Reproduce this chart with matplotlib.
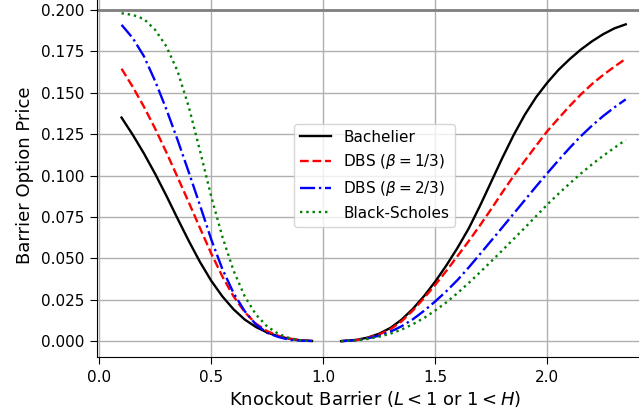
import matplotlib
matplotlib.use("Agg")
import matplotlib.pyplot as plt

# Left branch (L < 1)
x_left = [0.10, 0.15, 0.20, 0.25, 0.30, 0.35, 0.40, 0.45, 0.50, 0.55,
          0.60, 0.65, 0.70, 0.75, 0.80, 0.85, 0.90, 0.95]
bach_left = [0.135, 0.1246, 0.1133, 0.1010, 0.0878, 0.0740, 0.0605, 0.0478, 0.0365, 0.0270,
             0.0192, 0.0130, 0.0085, 0.0052, 0.0029, 0.0014, 0.0005, 0.0001]
dbs13_left = [0.1645, 0.1535, 0.1415, 0.1283, 0.1140, 0.0990, 0.0838, 0.0683, 0.0530, 0.0390,
              0.0270, 0.0175, 0.0105, 0.0060, 0.0032, 0.0015, 0.0006, 0.0001]
dbs23_left = [0.191, 0.183, 0.172, 0.157, 0.140, 0.1215, 0.102, 0.082, 0.0615, 0.0435,
              0.029, 0.018, 0.010, 0.005, 0.0025, 0.0008, 0.0003, 0.0001]
bs_left = [0.198, 0.197, 0.1945, 0.188, 0.178, 0.163, 0.1415, 0.1150, 0.0875, 0.0630,
           0.0425, 0.0270, 0.0160, 0.0088, 0.0044, 0.0018, 0.0005, 0.0001]

# Right branch (H > 1)
x_right = [1.08, 1.15, 1.20, 1.25, 1.30, 1.35, 1.40, 1.45, 1.50, 1.55,
           1.60, 1.65, 1.70, 1.75, 1.80, 1.85, 1.90, 1.95, 2.00, 2.05,
           2.10, 2.15, 2.20, 2.25, 2.30, 2.35]
bach_right = [0.0, 0.0008, 0.0022, 0.0045, 0.0080, 0.0130, 0.0195, 0.0272, 0.0360, 0.0458,
              0.0565, 0.0682, 0.0818, 0.0963, 0.1108, 0.1245, 0.1368, 0.1473, 0.1561, 0.1638,
              0.1703, 0.1761, 0.1811, 0.1854, 0.1889, 0.1913]
dbs13_right = [0.0, 0.0007, 0.0020, 0.0040, 0.0072, 0.0120, 0.0185, 0.0260, 0.0340, 0.0425,
               0.0515, 0.0605, 0.0700, 0.0798, 0.0900, 0.0998, 0.1090, 0.1180, 0.1268, 0.1345,
               0.1420, 0.1490, 0.1553, 0.1608, 0.1658, 0.1705]
dbs23_right = [0.0, 0.0006, 0.0017, 0.0033, 0.0057, 0.0090, 0.0132, 0.0183, 0.0240, 0.0302,
               0.0370, 0.0446, 0.0526, 0.0607, 0.0688, 0.0770, 0.0852, 0.0934, 0.1014, 0.1092,
               0.1167, 0.1238, 0.1302, 0.1360, 0.1412, 0.1460]
bs_right = [0.0, 0.0005, 0.0014, 0.0027, 0.0045, 0.0070, 0.0102, 0.0140, 0.0185, 0.0235,
            0.0291, 0.0352, 0.0416, 0.0482, 0.0549, 0.0617, 0.0685, 0.0755, 0.0825, 0.0890,
            0.0952, 0.1012, 0.1068, 0.1120, 0.1168, 0.1215]

labels = ["Bachelier", r"DBS ($\beta=1/3$)", r"DBS ($\beta=2/3$)", "Black-Scholes"]
upper_bound = 0.2

fig = plt.figure(figsize=(6.39, 4.17), dpi=100)
ax = fig.add_axes([0.1513, 0.1434, 0.870, 0.8725])

styles = [("k", "-"), ("r", "--"), ("b", "-."), ("green", ":")]
lefts = [bach_left, dbs13_left, dbs23_left, bs_left]
rights = [bach_right, dbs13_right, dbs23_right, bs_right]
for (c, ls), yl, yr, lab in zip(styles, lefts, rights, labels):
    ax.plot(x_left, yl, color=c, linestyle=ls, lw=1.7, label=lab)
    ax.plot(x_right, yr, color=c, linestyle=ls, lw=1.7)

ax.axhline(upper_bound, color="gray", lw=2)
ax.grid(True, color="#b0b0b0", lw=1)
ax.set_xlim(-0.011, 2.47)
ax.set_ylim(-0.0097, 0.21)
ax.set_xticks([0.0, 0.5, 1.0, 1.5, 2.0])
ax.set_yticks([0.0, 0.025, 0.05, 0.075, 0.1, 0.125, 0.15, 0.175, 0.2])
ax.tick_params(labelsize=11, length=5, pad=4)
ax.set_xlabel(r"Knockout Barrier ($L < 1$ or $1 < H$)", fontsize=13, labelpad=3)
ax.set_ylabel("Barrier Option Price", fontsize=13, labelpad=5)
ax.legend(loc="center", fontsize=11)

fig.savefig("out.png", dpi=100)
